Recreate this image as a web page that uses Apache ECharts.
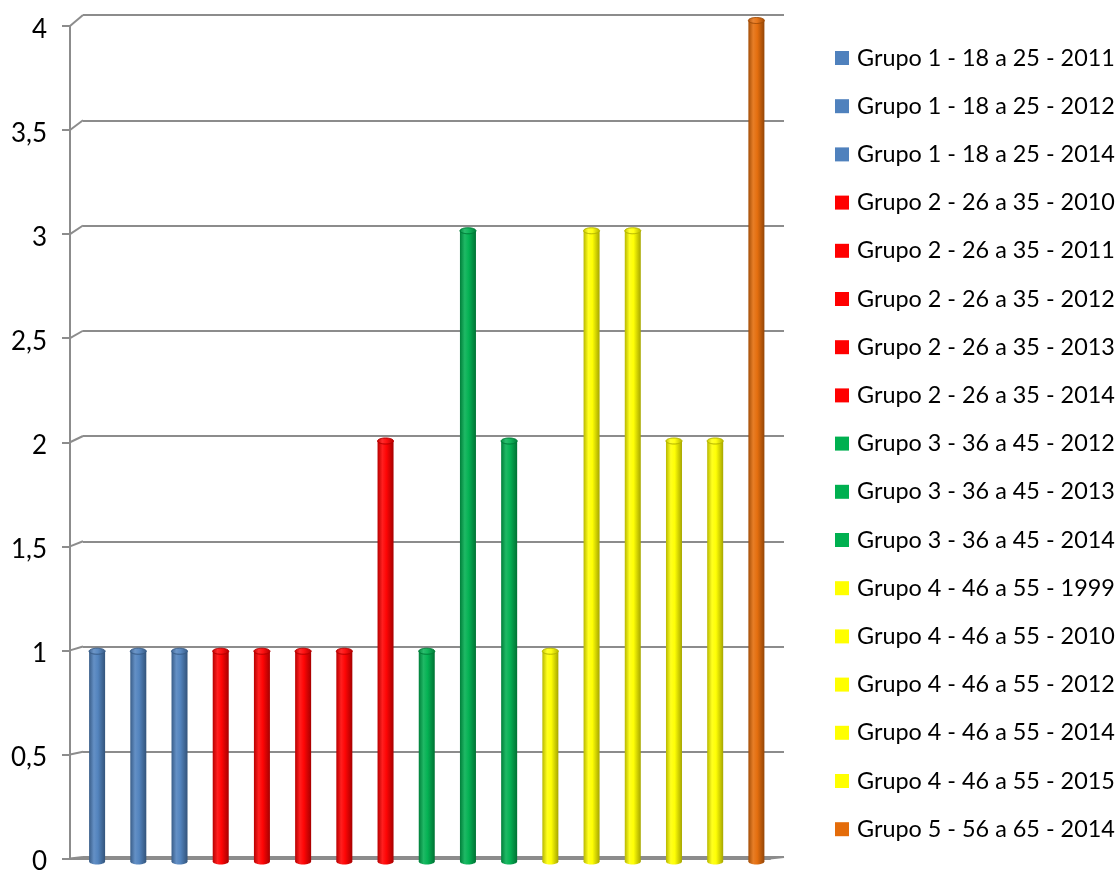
<!DOCTYPE html>
<html>
<head>
<meta charset="utf-8">
<script src="https://cdn.jsdelivr.net/npm/echarts@6/dist/echarts.min.js"></script>
<style>
  html, body { margin: 0; padding: 0; background: #ffffff; }
  #chart { width: 1119px; height: 875px; }
</style>
</head>
<body>
<div id="chart"></div>
<script>
// Series names (one column each) and their counts
const seriesNames = [
  'Grupo 1 - 18 a 25 - 2011',
  'Grupo 1 - 18 a 25 - 2012',
  'Grupo 1 - 18 a 25 - 2014',
  'Grupo 2 - 26 a 35 - 2010',
  'Grupo 2 - 26 a 35 - 2011',
  'Grupo 2 - 26 a 35 - 2012',
  'Grupo 2 - 26 a 35 - 2013',
  'Grupo 2 - 26 a 35 - 2014',
  'Grupo 3 - 36 a 45 - 2012',
  'Grupo 3 - 36 a 45 - 2013',
  'Grupo 3 - 36 a 45 - 2014',
  'Grupo 4 - 46 a 55 - 1999',
  'Grupo 4 - 46 a 55 - 2010',
  'Grupo 4 - 46 a 55 - 2012',
  'Grupo 4 - 46 a 55 - 2014',
  'Grupo 4 - 46 a 55 - 2015',
  'Grupo 5 - 56 a 65 - 2014'
];
const seriesValues = [1, 1, 1, 1, 1, 1, 1, 2, 1, 3, 2, 1, 3, 3, 2, 2, 4];
// Group number (1..5) of each series, used to pick its colour
const seriesGroup = [1, 1, 1, 2, 2, 2, 2, 2, 3, 3, 3, 4, 4, 4, 4, 4, 5];
const yTicks = [0, 0.5, 1, 1.5, 2, 2.5, 3, 3.5, 4];

// Group palette
const groupColors = { 1: '#4F81BD', 2: '#FF0000', 3: '#00B050', 4: '#FFFF00', 5: '#E46C0A' };

// Box geometry: back wall, front edge, and the middle depth where columns stand
const BACK = { left: 83, right: 784, top: 15, bottom: 857 };
const FRONT = { left: 70, right: 770, top: 26, bottom: 866 };
const MID = {
  left: (BACK.left + FRONT.left) / 2, right: (BACK.right + FRONT.right) / 2,
  top: (BACK.top + FRONT.top) / 2, bottom: (BACK.bottom + FRONT.bottom) / 2
};
const FONT = 'Lato';
const GRID_COLOR = '#8c8c8c';

function gridOf(b) {
  return { left: b.left, top: b.top, width: b.right - b.left, height: b.bottom - b.top, containLabel: false };
}

function shade(hex, f) {
  const n = parseInt(hex.slice(1), 16);
  let r = (n >> 16) & 255, g = (n >> 8) & 255, b = n & 255;
  if (f < 0) { r *= 1 + f; g *= 1 + f; b *= 1 + f; }
  else { r += (255 - r) * f; g += (255 - g) * f; b += (255 - b) * f; }
  return 'rgb(' + Math.round(r) + ',' + Math.round(g) + ',' + Math.round(b) + ')';
}

function cylinderGradient(base, lift) {
  return new echarts.graphic.LinearGradient(0, 0, 1, 0, [
    { offset: 0, color: shade(base, -0.28 + lift) },
    { offset: 0.3, color: shade(base, 0.12 + lift) },
    { offset: 0.55, color: shade(base, 0.02 + lift) },
    { offset: 1, color: shade(base, -0.35 + lift) }
  ]);
}

const cats = seriesNames.map((_, i) => String(i));

// One custom series per column so each gets its own legend entry
const series = seriesNames.map((name, i) => {
  const base = groupColors[seriesGroup[i]];
  return {
    name: name,
    type: 'custom',
    xAxisIndex: 1,
    yAxisIndex: 1,
    itemStyle: { color: base },
    data: [[i, seriesValues[i]]],
    encode: { x: 0, y: 1 },
    renderItem: function (params, api) {
      const top = api.coord([api.value(0), api.value(1)]);
      const bot = api.coord([api.value(0), 0]);
      const rx = 8, ry = 3;
      const cx = top[0];
      return {
        type: 'group',
        children: [
          { type: 'ellipse', shape: { cx: cx, cy: bot[1], rx: rx, ry: ry },
            style: { fill: cylinderGradient(base, 0) } },
          { type: 'rect', shape: { x: cx - rx, y: top[1], width: 2 * rx, height: bot[1] - top[1] },
            style: { fill: cylinderGradient(base, 0) } },
          { type: 'ellipse', shape: { cx: cx, cy: top[1], rx: rx, ry: ry },
            style: { fill: cylinderGradient(base, 0.05), stroke: shade(base, -0.3), lineWidth: 0.6 } }
        ]
      };
    }
  };
});

const chart = echarts.init(document.getElementById('chart'), null, { renderer: 'canvas' });

const option = {
  animation: false,
  backgroundColor: '#ffffff',
  grid: [gridOf(BACK), gridOf(MID), gridOf(FRONT)],
  xAxis: [0, 1, 2].map(g => ({
    type: 'category', gridIndex: g, data: cats,
    axisLabel: { show: false }, axisTick: { show: false },
    splitLine: { show: false },
    axisLine: { show: g === 2, lineStyle: { color: GRID_COLOR, width: 2 } }
  })),
  yAxis: [0, 1, 2].map(g => ({
    type: 'value', gridIndex: g, min: 0, max: 4, interval: 0.5,
    axisLine: { show: g === 2, lineStyle: { color: GRID_COLOR, width: 2 } },
    axisTick: { show: g === 2, length: 8, lineStyle: { color: GRID_COLOR, width: 2 } },
    axisLabel: {
      show: g === 2, color: '#000000', fontFamily: FONT, fontSize: 26, margin: 23,
      formatter: v => '{t|' + String(v).replace('.', ',') + '}',
      rich: { t: { fontFamily: FONT, fontSize: 26, color: '#000000', padding: [7, 0, 0, 0] } }
    },
    splitLine: { show: g === 0, lineStyle: { color: GRID_COLOR, width: 2 } }
  })),
  legend: {
    orient: 'vertical',
    left: 830, top: 41,
    icon: 'rect', itemWidth: 14, itemHeight: 14, itemGap: 24.2,
    textStyle: { color: '#000000', fontFamily: FONT, fontSize: 23.4, lineHeight: 24, padding: [0, 0, 0, 3] },
    data: seriesNames
  },
  series: series
};
chart.setOption(option);

// Slanted edges joining the front axis to the back wall, plus the floor's right edge
const lines = [];
yTicks.forEach(v => {
  const yf = chart.convertToPixel({ yAxisIndex: 2 }, v);
  const yb = chart.convertToPixel({ yAxisIndex: 0 }, v);
  lines.push({ x1: FRONT.left, y1: yf, x2: BACK.left, y2: yb });
});
lines.push({
  x1: FRONT.right, y1: chart.convertToPixel({ yAxisIndex: 2 }, 0),
  x2: BACK.right, y2: chart.convertToPixel({ yAxisIndex: 0 }, 0)
});
chart.setOption({
  graphic: lines.map(s => ({
    type: 'line', shape: s, silent: true, z: 1,
    style: { stroke: GRID_COLOR, lineWidth: 2 }
  }))
});
</script>
</body>
</html>
